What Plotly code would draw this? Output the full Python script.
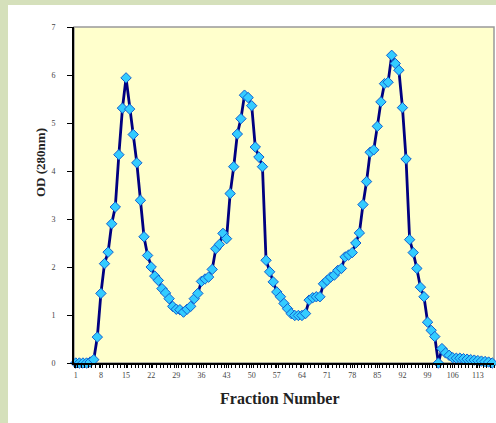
import plotly.graph_objects as go

fractions = list(range(1, 118))
od280 = [
    0, 0, 0, 0, 0.02, 0.07, 0.54, 1.45, 2.07, 2.31,
    2.90, 3.25, 4.34, 5.31, 5.94, 5.29, 4.76, 4.17, 3.39, 2.63,
    2.24, 2.00, 1.81, 1.72, 1.55, 1.46, 1.34, 1.18, 1.12, 1.11,
    1.06, 1.12, 1.18, 1.34, 1.45, 1.70, 1.75, 1.79, 1.95, 2.38,
    2.47, 2.70, 2.59, 3.53, 4.09, 4.77, 5.09, 5.58, 5.53, 5.36,
    4.50, 4.29, 4.09, 2.14, 1.90, 1.69, 1.48, 1.38, 1.24, 1.13,
    1.03, 0.99, 0.99, 0.99, 1.03, 1.31, 1.36, 1.38, 1.38, 1.65,
    1.72, 1.79, 1.83, 1.93, 1.97, 2.21, 2.25, 2.30, 2.50, 2.71,
    3.30, 3.78, 4.39, 4.44, 4.93, 5.44, 5.82, 5.85, 6.41, 6.24,
    6.10, 5.32, 4.25, 2.57, 2.30, 1.97, 1.58, 1.38, 0.85, 0.68,
    0.55, 0, 0.30, 0.21, 0.16, 0.11, 0.10, 0.10, 0.09, 0.08,
    0.07, 0.06, 0.05, 0.04, 0.03, 0.02, 0,
]
x_tick_vals = list(range(1, 114, 7))
y_tick_vals = [0, 1, 2, 3, 4, 5, 6, 7]

W, H = 496, 423
ML, MR, MT, MB = 74, 2, 27, 60
pw, ph = W - ML - MR, H - MT - MB

def px2paper_x(px):
    return (px - ML) / pw

def px2paper_y(py):
    return (H - MB - py) / ph

fig = go.Figure()
fig.add_trace(go.Scatter(
    x=fractions, y=od280, mode="lines+markers",
    line=dict(color="#000080", width=2.8),
    marker=dict(symbol="diamond", size=8, color="#33CCFF",
                line=dict(color="#1060D0", width=1)),
    cliponaxis=False, showlegend=False,
))

green = "#D5E0BB"
shapes = [
    dict(type="rect", xref="paper", yref="paper",
         x0=px2paper_x(0), x1=px2paper_x(8), y0=px2paper_y(H), y1=px2paper_y(0),
         fillcolor=green, line=dict(width=0), layer="below"),
    dict(type="rect", xref="paper", yref="paper",
         x0=px2paper_x(0), x1=px2paper_x(W), y0=px2paper_y(5), y1=px2paper_y(0),
         fillcolor=green, line=dict(width=0), layer="below"),
    dict(type="rect", xref="paper", yref="paper", x0=0, x1=1, y0=0, y1=1,
         line=dict(color="#999999", width=1.5), layer="below"),
]

fig.update_layout(
    width=W, height=H,
    margin=dict(l=ML, r=MR, t=MT, b=MB),
    paper_bgcolor="white", plot_bgcolor="#FFFFCC",
    shapes=shapes,
    xaxis=dict(range=[0.5, 117.5], tickmode="array", tickvals=x_tick_vals,
               ticktext=[str(v) for v in x_tick_vals],
               showgrid=False, zeroline=False, showline=True,
               linecolor="black", linewidth=2, ticks="outside", ticklen=3,
               tickcolor="black",
               minor=dict(dtick=1, tick0=0.5, ticks="outside", ticklen=3,
                          tickcolor="black", showgrid=False),
               tickfont=dict(family="Liberation Serif", size=8, color="#444"),
               fixedrange=True),
    yaxis=dict(range=[0, 7], tickvals=y_tick_vals,
               showgrid=False, zeroline=False, showline=True,
               linecolor="black", linewidth=2, ticks="outside", ticklen=5,
               tickcolor="black", ticklabelstandoff=10,
               tickfont=dict(family="Liberation Serif", size=8, color="#444"),
               fixedrange=True),
    annotations=[
        dict(text="<b>OD (280nm)</b>", xref="paper", yref="paper",
             x=px2paper_x(40), y=px2paper_y(163), textangle=-90,
             showarrow=False, xanchor="center", yanchor="middle",
             font=dict(family="Liberation Serif", size=13, color="#222")),
        dict(text="<b>Fraction Number</b>", xref="paper", yref="paper",
             x=px2paper_x(280), y=px2paper_y(398),
             showarrow=False, xanchor="center", yanchor="middle",
             font=dict(family="Liberation Serif", size=16, color="#222")),
    ],
)

fig.write_html(
    "out.html",
    config={"displayModeBar": False},
    post_script="document.body.style.margin='0';document.body.style.overflow='hidden';",
)
